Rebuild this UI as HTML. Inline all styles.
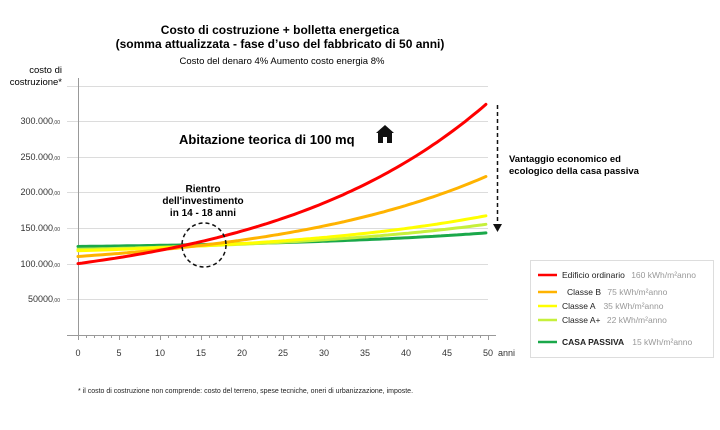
<!DOCTYPE html>
<html><head><meta charset="utf-8"><style>
body{margin:0;background:#fff;}
svg{display:block;font-family:"Liberation Sans",Arial,sans-serif;}
</style></head><body>
<svg id="s" width="720" height="430" viewBox="0 0 720 430" xmlns="http://www.w3.org/2000/svg">
<text x="280" y="34" font-size="12" font-weight="bold" text-anchor="middle">Costo di costruzione + bolletta energetica</text>
<text x="280" y="48" font-size="12" font-weight="bold" text-anchor="middle">(somma attualizzata - fase d’uso del fabbricato di 50 anni)</text>
<text x="282" y="64" font-size="9.5" text-anchor="middle">Costo del denaro 4%   Aumento costo energia 8%</text>
<text x="62" y="73" font-size="9.5" text-anchor="end">costo di</text>
<text x="62" y="85" font-size="9.5" text-anchor="end">costruzione*</text>
<g stroke="#dcdcdc" stroke-width="1">
<line x1="67" y1="86.5" x2="488" y2="86.5"/>
<line x1="67" y1="121.5" x2="488" y2="121.5"/>
<line x1="67" y1="157.5" x2="488" y2="157.5"/>
<line x1="67" y1="192.5" x2="488" y2="192.5"/>
<line x1="67" y1="228.5" x2="488" y2="228.5"/>
<line x1="67" y1="264.5" x2="488" y2="264.5"/>
<line x1="67" y1="299.5" x2="488" y2="299.5"/>
</g>
<line x1="78.5" y1="78" x2="78.5" y2="335" stroke="#999"/>
<line x1="67" y1="335.5" x2="496" y2="335.5" stroke="#999"/>
<g id="ticks" stroke="#999"></g>
<g font-size="9" fill="#333" text-anchor="end">
<text x="60" y="124">300.000<tspan font-size="5">,00</tspan></text>
<text x="60" y="160">250.000<tspan font-size="5">,00</tspan></text>
<text x="60" y="195">200.000<tspan font-size="5">,00</tspan></text>
<text x="60" y="231">150.000<tspan font-size="5">,00</tspan></text>
<text x="60" y="267">100.000<tspan font-size="5">,00</tspan></text>
<text x="60" y="302">50000<tspan font-size="5">,00</tspan></text>
</g>
<g id="xl" font-size="9" fill="#333" text-anchor="middle"></g>
<text x="498" y="356" font-size="9" fill="#333">anni</text>
<g id="curves" fill="none" stroke-width="3" stroke-linecap="round"></g>
<circle cx="204" cy="245" r="22" fill="none" stroke="#111" stroke-width="1.5" stroke-dasharray="4,3"/>
<text x="203" y="192" font-size="10" font-weight="bold" text-anchor="middle">Rientro</text>
<text x="203" y="204" font-size="10" font-weight="bold" text-anchor="middle">dell'investimento</text>
<text x="203" y="216" font-size="10" font-weight="bold" text-anchor="middle">in 14 - 18 anni</text>
<text x="179" y="144" font-size="13" font-weight="bold">Abitazione teorica di 100 mq</text>
<path d="M376 133 L385 125 L394 133 Z M378 133 H392 V143 H387 V137 H383 V143 H378 Z" fill="#111"/>
<line x1="497.5" y1="105" x2="497.5" y2="225" stroke="#111" stroke-width="1.5" stroke-dasharray="4,3"/>
<path d="M493 224 L497.5 232 L502 224 Z" fill="#111"/>
<text x="509" y="162" font-size="9.5" font-weight="bold">Vantaggio economico ed</text>
<text x="509" y="174" font-size="9.5" font-weight="bold">ecologico della casa passiva</text>
<rect x="530.5" y="260.5" width="183" height="97" fill="#fff" stroke="#ddd"/>
<g stroke-width="2.5">
<line x1="538" y1="275" x2="557" y2="275" stroke="#f00"/>
<line x1="538" y1="292" x2="557" y2="292" stroke="#ffb300"/>
<line x1="538" y1="306" x2="557" y2="306" stroke="#ffff00"/>
<line x1="538" y1="320" x2="557" y2="320" stroke="#c6f03c"/>
<line x1="538" y1="342" x2="557" y2="342" stroke="#1aa84a"/>
</g>
<g font-size="8.5" fill="#222">
<text x="562" y="278">Edificio ordinario <tspan fill="#999" dx="4">160 kWh/m²anno</tspan></text>
<text x="567" y="295">Classe  B <tspan fill="#999" dx="4">75 kWh/m²anno</tspan></text>
<text x="562" y="309">Classe A <tspan fill="#999" dx="6">35 kWh/m²anno</tspan></text>
<text x="562" y="323">Classe A+ <tspan fill="#999" dx="4">22 kWh/m²anno</tspan></text>
<text x="562" y="345" font-weight="bold">CASA PASSIVA <tspan fill="#999" font-weight="normal" dx="6">15 kWh/m²anno</tspan></text>
</g>
<text x="78" y="393" font-size="7" fill="#222">* il costo di costruzione non comprende: costo del terreno, spese tecniche, oneri di urbanizzazione, imposte.</text>
<script>
var ns="http://www.w3.org/2000/svg";
function X(t){return 78+t*8.2;}
function Y(v){return 335-v*0.714;}
var tk=document.getElementById("ticks"),xl=document.getElementById("xl");
for(var t=0;t<=50;t++){var l=document.createElementNS(ns,"line");var x=Math.round(X(t))+0.5;
l.setAttribute("x1",x);l.setAttribute("x2",x);l.setAttribute("y1",335);l.setAttribute("y2",t%5==0?340:338);tk.appendChild(l);
if(t%5==0){var tx=document.createElementNS(ns,"text");tx.setAttribute("x",X(t));tx.setAttribute("y",356);tx.textContent=t;xl.appendChild(tx);}}
var cs=[["#1aa84a",124,143],["#c6f03c",120,155],["#ffff00",118,167],["#ffb300",110,222],["#f00",100,323]];
var g=document.getElementById("curves"),r=1.038,D=Math.pow(r,50)-1;
cs.forEach(function(c){var d="";for(var t=0;t<=50;t+=0.5){var v=c[1]+(c[2]-c[1])*(Math.pow(r,t)-1)/D;d+=(t?"L":"M")+X(t*0.995).toFixed(1)+" "+Y(v).toFixed(1);}
var p=document.createElementNS(ns,"path");p.setAttribute("d",d);p.setAttribute("stroke",c[0]);g.appendChild(p);});
</script>
</svg>
</body></html>
